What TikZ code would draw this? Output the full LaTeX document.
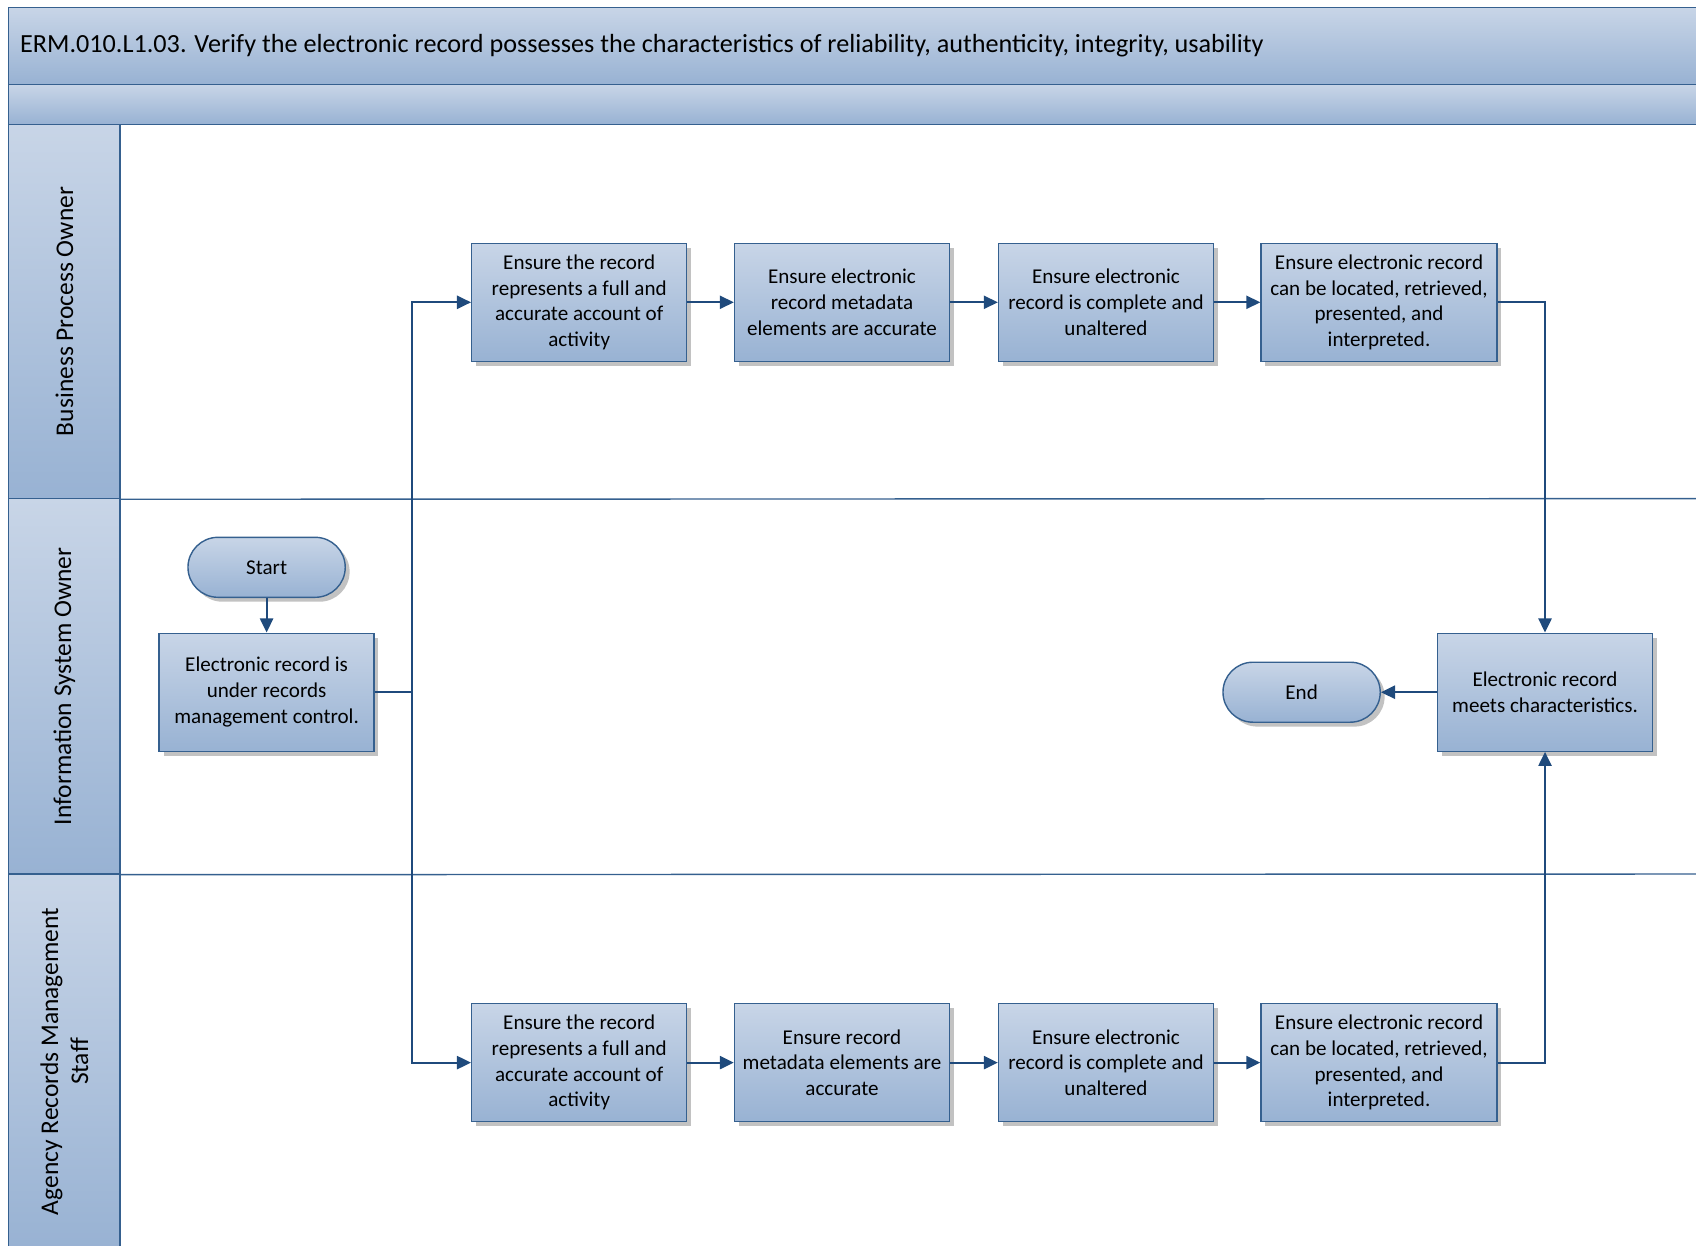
\documentclass[tikz,border=0pt]{standalone}
\usepackage{fontspec}
\setmainfont{Carlito}
\usetikzlibrary{arrows.meta,shadows,shapes.misc}

\definecolor{paleblue}{HTML}{C8D5E7}
\definecolor{midblue}{HTML}{98B2D3}
\definecolor{rimblue}{HTML}{35608F}
\definecolor{flowblue}{HTML}{1F4A7C}

\tikzset{
	task/.style={draw=rimblue, line width=0.8pt, top color=paleblue, bottom color=midblue,
		drop shadow={shadow xshift=2.5pt, shadow yshift=-2.5pt, fill=black!40, opacity=0.6},
		minimum width=4.3cm, minimum height=2.36cm, align=center,
		inner sep=2pt, font=\fontsize{12}{14.7}\selectfont},
	term/.style={rounded rectangle, draw=rimblue, line width=0.8pt, top color=paleblue, bottom color=midblue,
		drop shadow={shadow xshift=2.5pt, shadow yshift=-2.5pt, fill=black!40, opacity=0.6},
		minimum width=3.38cm, minimum height=1.2cm, font=\fontsize{12}{14.7}\selectfont},
	lane/.style={rotate=90, draw=rimblue, line width=0.8pt, top color=paleblue, bottom color=midblue,
		minimum height=2.226cm, align=center, font=\fontsize{14.5}{17}\selectfont},
	flow/.style={draw=flowblue, line width=1.1pt, -{Triangle[length=8pt, width=7.5pt]}}
}

\begin{document}
\begin{tikzpicture}[x=0.02cm, y=-0.02cm]
	\useasboundingbox (0,0) rectangle (1696,1245);
	\draw[draw=rimblue, line width=0.8pt, top color=paleblue, bottom color=midblue] (8.7,7.6) rectangle (1702,84.4);
	\draw[draw=rimblue, line width=0.8pt, top color=paleblue, bottom color=midblue] (8.7,84.4) rectangle (1702,124.4);
	\node[anchor=west, font=\fontsize{14.9}{17}\selectfont] (title) at (14,45.5) {ERM.010.L1.03. Verify the electronic record possesses the characteristics of reliability, authenticity, integrity, usability};

	\node (l1) [lane, minimum width=7.484cm] at (64.4,311.5) {Business Process Owner};
	\node (l2) [lane, minimum width=7.508cm] at (64.4,686.3) {Information System Owner};
	\node (l3) [lane, minimum width=7.5cm] at (64.4,1061.5) {Agency Records Management\\Staff};
	\draw[rimblue, line width=0.8pt] (l1.south west) -- (1702,498.6);
	\draw[rimblue, line width=0.8pt] (l2.south west) -- (1702,874);

	\node (start) [term] at (266.6,567.3) {Start};
	\node (erc) [task] at (266.6,692.2) {Electronic record is\\under records\\management control.};
	\node (t1) [task] at (579.2,302.3) {Ensure the record\\represents a full and\\accurate account of\\activity};
	\node (t2) [task] at (842,302.3) {Ensure electronic\\record metadata\\elements are accurate};
	\node (t3) [task] at (1106,302.3) {Ensure electronic\\record is complete and\\unaltered};
	\node (t4) [task, minimum width=4.72cm] at (1379,302.3) {Ensure electronic record\\can be located, retrieved,\\presented, and\\interpreted.};
	\node (b1) [task] at (579.2,1062.6) {Ensure the record\\represents a full and\\accurate account of\\activity};
	\node (b2) [task] at (842,1062.6) {Ensure record\\metadata elements are\\accurate};
	\node (b3) [task] at (1106,1062.6) {Ensure electronic\\record is complete and\\unaltered};
	\node (b4) [task, minimum width=4.72cm] at (1379,1062.6) {Ensure electronic record\\can be located, retrieved,\\presented, and\\interpreted.};
	\node (meets) [task] at (1545,692.2) {Electronic record\\meets characteristics.};
	\node (end) [term] at (1301.6,692.2) {End};
	\coordinate (split) at (412,692.2);

	\path (start.south) edge [flow] (erc.north);
	\draw[flow, -] (erc.east) -- (split);
	\draw[flow] (split) |- (t1.west);
	\draw[flow] (split) |- (b1.west);
	\path (t1.east) edge [flow] (t2.west);
	\path (t2.east) edge [flow] (t3.west);
	\path (t3.east) edge [flow] (t4.west);
	\path (b1.east) edge [flow] (b2.west);
	\path (b2.east) edge [flow] (b3.west);
	\path (b3.east) edge [flow] (b4.west);
	\draw[flow] (t4.east) -| (meets.north);
	\draw[flow] (b4.east) -| (meets.south);
	\path (meets.west) edge [flow] (end.east);
\end{tikzpicture}
\end{document}
